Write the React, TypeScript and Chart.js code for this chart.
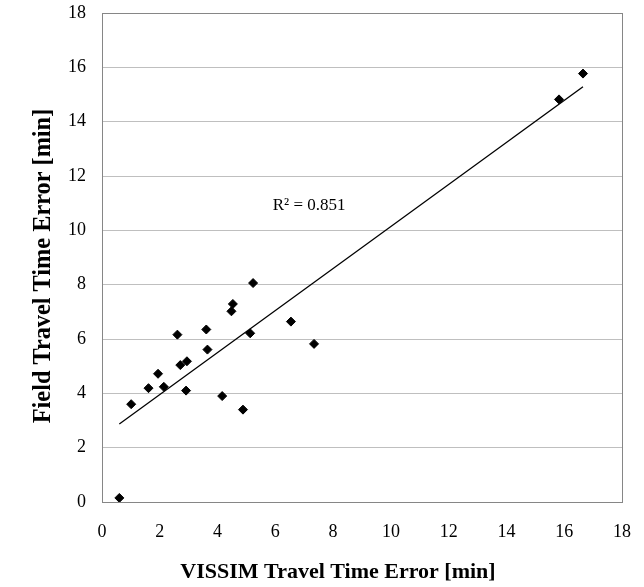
import React, { useEffect, useRef } from "react";
import { Chart, registerables } from "chart.js";

Chart.register(...registerables);

// VISSIM travel time error (x) vs field travel time error (y), minutes
const vissimError = [0.60, 1.01, 1.61, 1.94, 2.14, 2.61, 2.71, 2.94, 2.91, 3.61, 3.65, 4.16, 4.53, 4.48, 4.88, 5.23, 5.13, 6.54, 7.34, 15.82, 16.65];
const fieldError = [0.15, 3.60, 4.19, 4.72, 4.24, 6.16, 5.04, 5.18, 4.10, 6.35, 5.61, 3.90, 7.29, 7.02, 3.40, 8.06, 6.21, 6.64, 5.82, 14.82, 15.77];

const axisMin = 0;
const axisMax = 18;
const axisStep = 2;

const xTitle = "VISSIM Travel Time Error [min]";
const yTitle = "Field Travel Time Error [min]";
const r2Label = "R\u00B2 = 0.851";
const r2Pos = [7.17, 10.93];

function linearFit(xs: number[], ys: number[]) {
  const n = xs.length;
  const mx = xs.reduce((a, b) => a + b, 0) / n;
  const my = ys.reduce((a, b) => a + b, 0) / n;
  let sxy = 0;
  let sxx = 0;
  for (let i = 0; i < n; i++) {
    sxy += (xs[i] - mx) * (ys[i] - my);
    sxx += (xs[i] - mx) * (xs[i] - mx);
  }
  const slope = sxy / sxx;
  return { slope, intercept: my - slope * mx };
}

const SERIF = "'Liberation Serif', 'Times New Roman', serif";

export default function App() {
  const ref = useRef<HTMLCanvasElement>(null);

  useEffect(() => {
    if (!ref.current) return;
    const fit = linearFit(vissimError, fieldError);
    const xLo = Math.min(...vissimError);
    const xHi = Math.max(...vissimError);
    const trend = [
      { x: xLo, y: fit.intercept + fit.slope * xLo },
      { x: xHi, y: fit.intercept + fit.slope * xHi },
    ];

    const frame = {
      id: "frame",
      afterDraw(chart: any) {
        const { ctx, chartArea } = chart;
        ctx.save();
        ctx.strokeStyle = "#868686";
        ctx.lineWidth = 1;
        ctx.strokeRect(
          Math.round(chartArea.left) + 0.5,
          Math.round(chartArea.top) + 0.5,
          Math.round(chartArea.right - chartArea.left),
          Math.round(chartArea.bottom - chartArea.top)
        );
        const xs = chart.scales.x;
        const ys = chart.scales.y;
        ctx.fillStyle = "#000";
        ctx.font = `17px ${SERIF}`;
        ctx.textAlign = "center";
        ctx.textBaseline = "middle";
        ctx.fillText(r2Label, xs.getPixelForValue(r2Pos[0]), ys.getPixelForValue(r2Pos[1]));

        // axis titles
        ctx.textBaseline = "alphabetic";
        ctx.font = `bold 22px ${SERIF}`;
        ctx.fillText(xTitle, 338, 578);
        ctx.save();
        ctx.translate(49.5, 266);
        ctx.rotate(-Math.PI / 2);
        ctx.font = `bold 24.3px ${SERIF}`;
        ctx.fillText(yTitle, 0, 0);
        ctx.restore();
        ctx.restore();
      },
    };

    const chart = new Chart(ref.current, {
      type: "scatter",
      data: {
        datasets: [
          {
            label: "data",
            data: vissimError.map((x, i) => ({ x, y: fieldError[i] })),
            pointStyle: "rectRot",
            pointRadius: 4.5,
            pointBackgroundColor: "#000",
            pointBorderColor: "#000",
            pointBorderWidth: 1,
            showLine: false,
            order: 1,
          },
          {
            label: "trend",
            data: trend,
            showLine: true,
            borderColor: "#000",
            borderWidth: 1.3,
            pointRadius: 0,
            order: 2,
          },
        ],
      },
      options: {
        responsive: false,
        animation: false,
        layout: { padding: { top: 13, right: 22, left: 0, bottom: 0 } },
        plugins: { legend: { display: false }, tooltip: { enabled: false } },
        scales: {
          x: {
            type: "linear",
            min: axisMin,
            max: axisMax,
            afterFit(scale: any) {
              scale.height = 85;
              scale.paddingLeft = 0;
              scale.paddingRight = 0;
            },
            ticks: {
              stepSize: axisStep,
              color: "#000",
              font: { family: SERIF, size: 18 },
              padding: 19,
            },
            grid: { display: false, drawTicks: false },
            border: { display: false },
            title: { display: false },
          },
          y: {
            type: "linear",
            min: axisMin,
            max: axisMax,
            afterFit(scale: any) {
              scale.width = 102;
              scale.paddingTop = 0;
              scale.paddingBottom = 0;
            },
            ticks: {
              stepSize: axisStep,
              color: "#000",
              font: { family: SERIF, size: 18 },
              padding: 16,
            },
            grid: { color: "#bfbfbf", lineWidth: 1, drawTicks: false },
            border: { display: false },
            title: { display: false },
          },
        },
      },
      plugins: [frame],
    });
    return () => chart.destroy();
  }, []);

  return (
    <div style={{ position: "absolute", left: 0, top: 0, width: 644, height: 587, background: "#fff" }}>
      <canvas ref={ref} width={644} height={587} />
    </div>
  );
}
